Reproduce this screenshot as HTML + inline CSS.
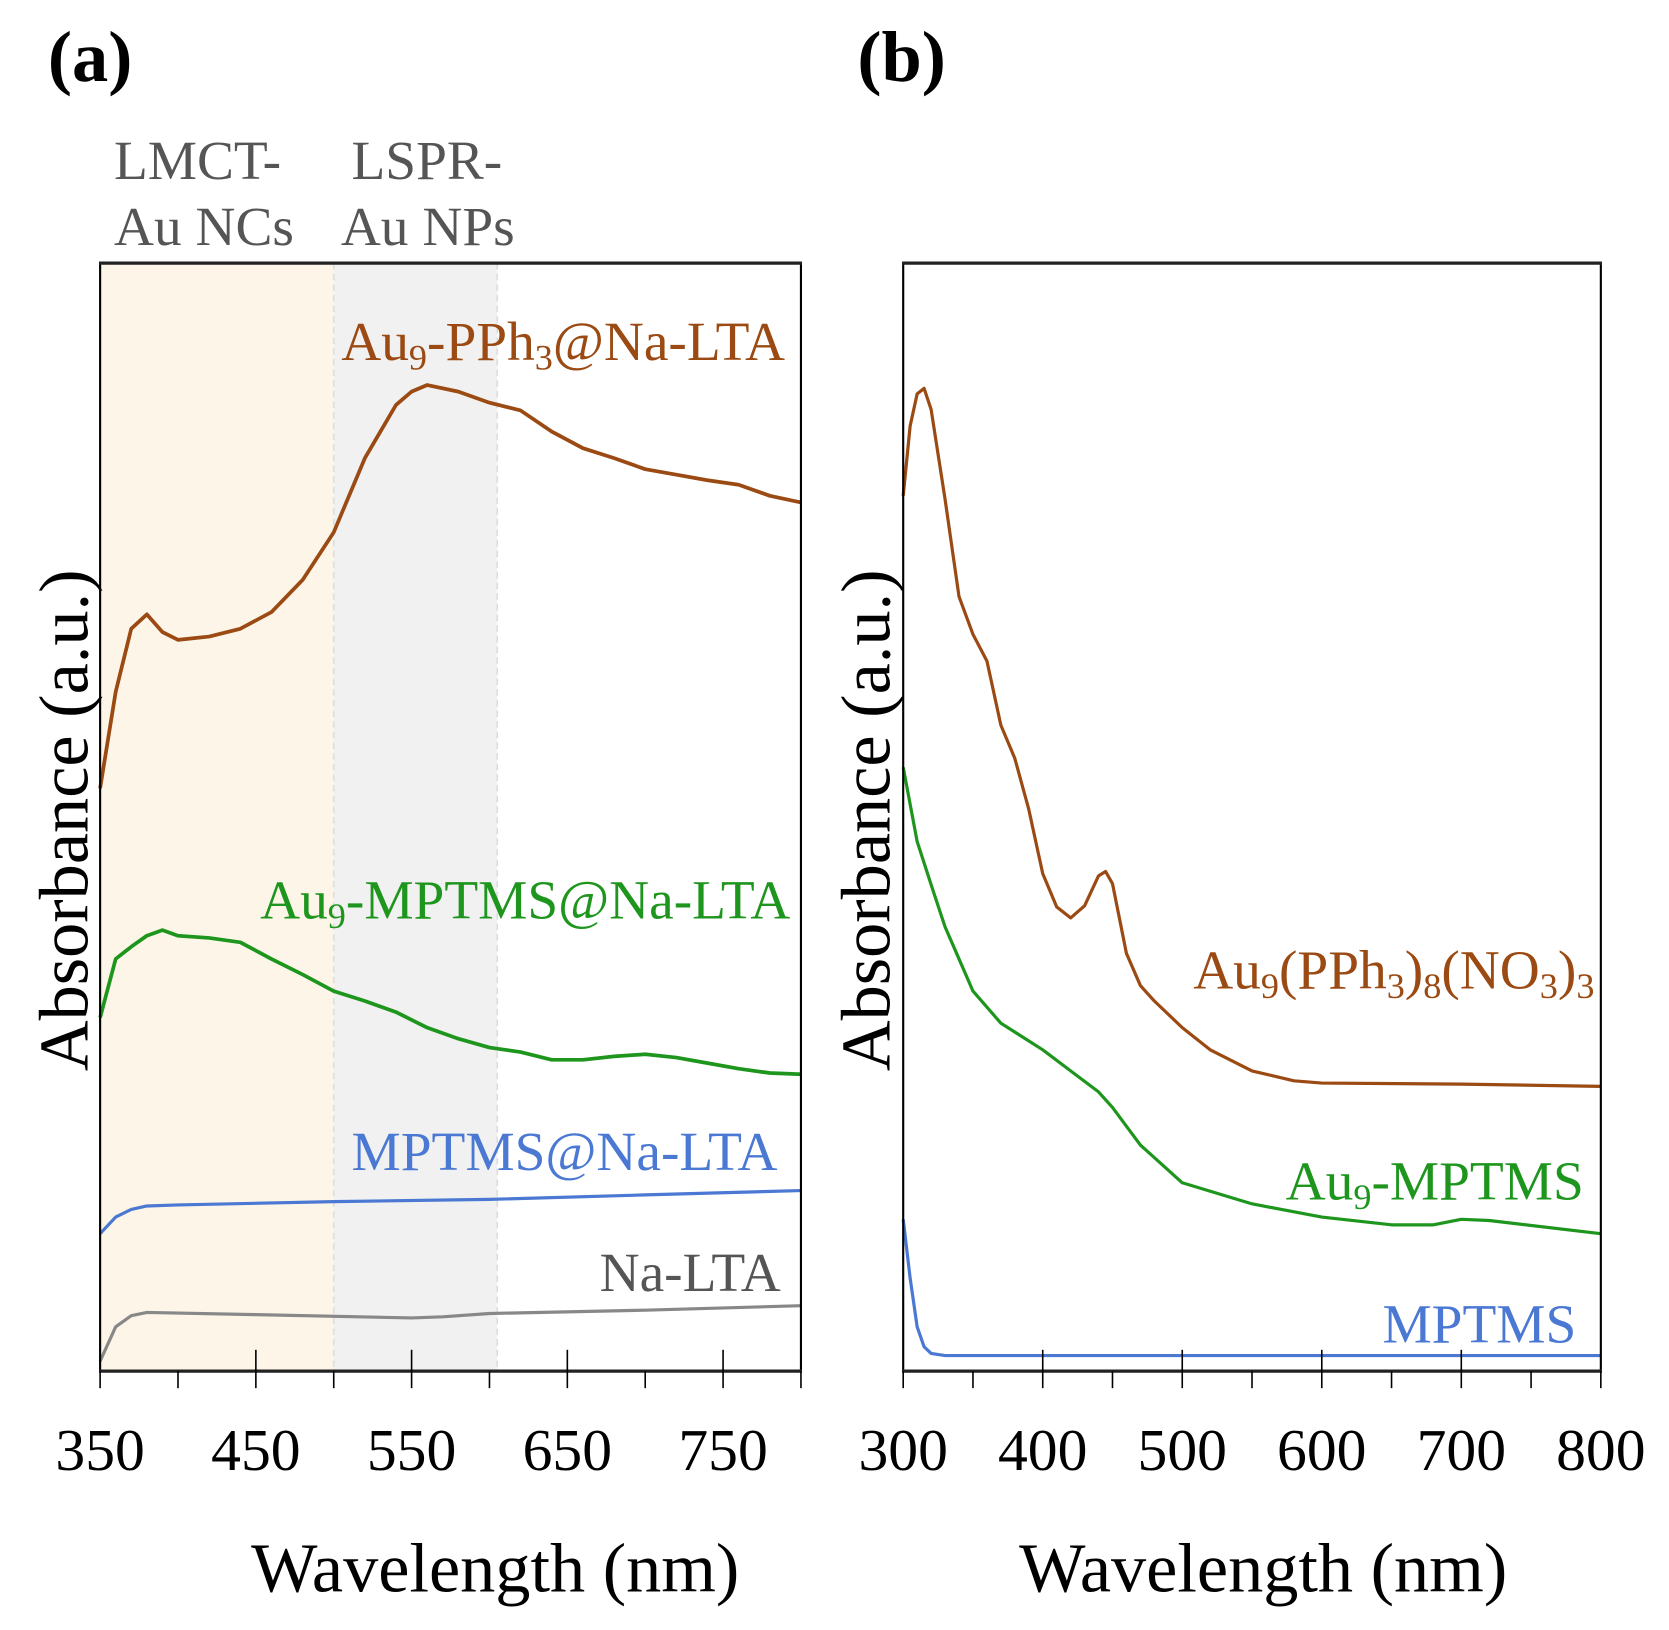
<!DOCTYPE html>
<html><head><meta charset="utf-8"><style>
html,body{margin:0;padding:0;background:#fff}
svg{display:block}
text{font-family:"Liberation Serif",serif}
</style></head><body>
<svg id="fig" width="1669" height="1630" viewBox="0 0 1567 1530" preserveAspectRatio="none" xmlns="http://www.w3.org/2000/svg">
<g id="pa"></g>
<g id="pb"></g>
</svg>
<script>
// Panel (a) data
const aX_ppn = [350,360,370,380,390,400,420,440,460,480,500,520,540,550,560,580,600,620,640,660,680,700,720,740,760,780,800];
const aY_ppn = [.526,.613,.670,.683,.667,.660,.663,.670,.685,.714,.757,.824,.872,.884,.890,.884,.874,.867,.848,.833,.824,.814,.809,.804,.800,.790,.784];
const aX_mp = [350,360,370,380,390,400,420,440,460,480,500,520,540,560,580,600,620,640,660,680,700,720,740,760,780,800];
const aY_mp = [.319,.372,.383,.393,.398,.393,.391,.387,.372,.358,.343,.334,.324,.310,.300,.292,.288,.281,.281,.284,.286,.283,.278,.273,.269,.268];
const aX_blue = [350,360,370,380,400,500,600,700,800];
const aY_blue = [.124,.139,.146,.149,.150,.153,.155,.159,.163];
const aX_gray = [350,360,370,380,450,550,570,600,700,800];
const aY_gray = [.009,.040,.050,.053,.051,.048,.049,.052,.055,.059];
const aTicks = [350,450,550,650,750];
// Panel (b) data
const bX_ppn = [300,305,310,315,320,330,340,350,360,370,380,390,400,410,420,430,440,445,450,460,470,480,500,520,550,580,600,700,800];
const bY_ppn = [.790,.853,.882,.887,.868,.787,.699,.665,.641,.583,.553,.507,.449,.419,.409,.420,.447,.451,.440,.377,.348,.334,.310,.290,.271,.262,.260,.259,.257];
const bX_mp = [300,310,320,330,340,350,370,400,420,440,450,470,500,550,600,650,680,700,720,800];
const bY_mp = [.545,.478,.439,.401,.372,.343,.314,.290,.271,.252,.238,.204,.170,.151,.139,.132,.132,.137,.136,.124];
const bX_blue = [300,305,310,315,320,330,800];
const bY_blue = [.137,.084,.040,.022,.016,.014,.014];
const bTicks = [300,400,500,600,700,800];

const NS="http://www.w3.org/2000/svg";
function mk(parent,tag,attrs,txt){const e=document.createElementNS(NS,tag);for(const k in attrs)e.setAttribute(k,attrs[k]);if(txt!==undefined)e.textContent=txt;parent.appendChild(e);return e;}
const TOP=247,BOT=1287;
function yS(v){return BOT-v*(BOT-TOP);}
const TICKF=56, TITLEF=66, LABF=52, SUBF=34;

// ---------- panel a ----------
const ga=document.getElementById('pa');
const La=94,Ra=752; const xa=v=>La+(v-350)/450*(Ra-La);
let r=mk(ga,'rect',{x:La,y:TOP,width:xa(500)-La,height:BOT-TOP,fill:'#fdf6e8'});


r=mk(ga,'rect',{x:xa(500),y:TOP,width:xa(605)-xa(500),height:BOT-TOP,fill:'#f1f1f1'});


mk(ga,'line',{x1:xa(500),y1:TOP,x2:xa(500),y2:BOT,stroke:'#ddd','stroke-dasharray':'6 4','stroke-width':1.5});
mk(ga,'line',{x1:xa(605),y1:TOP,x2:xa(605),y2:BOT,stroke:'#ddd','stroke-dasharray':'6 4','stroke-width':1.5});
function series(g,X,Y,xf,col,name,w){
  const p=mk(g,'polyline',{points:X.map((x,i)=>xf(x).toFixed(1)+','+yS(Y[i]).toFixed(1)).join(' '),fill:'none',stroke:col,'stroke-width':w||2.5,'stroke-linejoin':'round'});
  
  
}
series(ga,aX_ppn,aY_ppn,xa,'#9a4a12','series-au9-pph3-na-lta',3.5);
series(ga,aX_mp,aY_mp,xa,'#1e961e','series-au9-mptms-na-lta',3.5);
series(ga,aX_blue,aY_blue,xa,'#4a78d2','series-mptms-na-lta',3);
series(ga,aX_gray,aY_gray,xa,'#888','series-na-lta',3);
function frame(g,L,R,name){
  const f=mk(g,'rect',{x:L,y:TOP,width:R-L,height:BOT-TOP,fill:'none',stroke:'#000','stroke-width':2});
  
  
  mk(g,'line',{x1:L-1,y1:TOP,x2:R+1,y2:TOP,stroke:'#222','stroke-width':3});
  mk(g,'line',{x1:L-1,y1:BOT,x2:R+1,y2:BOT,stroke:'#222','stroke-width':3});
}
frame(ga,La,Ra,'plot-frame-a');
for(let v=350;v<=800;v+=50){
  mk(ga,'line',{x1:xa(v),y1:BOT,x2:xa(v),y2:BOT+16,stroke:'#000','stroke-width':1.5});
  if((v-350)%100===0&&v>350&&v<800) mk(ga,'line',{x1:xa(v),y1:BOT-20,x2:xa(v),y2:BOT,stroke:'#000','stroke-width':1.5});}
aTicks.forEach(v=>{const t=mk(ga,'text',{x:xa(v),y:1380,'font-size':TICKF,'text-anchor':'middle'},String(v));
  
  });
function label(g,x,y,s,col,size,name,anchor){const t=mk(g,'text',{x:x,y:y,'font-size':size,fill:col,'text-anchor':anchor||'end'});t.innerHTML=s;
  
  return t;}
const sub=n=>'<tspan font-size="'+SUBF+'" dy="9">'+n+'</tspan>';
const re=s=>'<tspan dy="-9">'+s+'</tspan>';
label(ga,737,338,'Au'+sub(9)+re('-PPh')+sub(3)+re('@Na-LTA'),'#9a4a12',LABF,'label-au9-pph3-na-lta');
label(ga,742,862,'Au'+sub(9)+re('-MPTMS@Na-LTA'),'#1e961e',LABF,'label-au9-mptms-na-lta');
label(ga,730,1098,'MPTMS@Na-LTA','#4a78d2',LABF,'label-mptms-na-lta');
label(ga,733,1212,'Na-LTA','#555',LABF,'label-na-lta');
label(ga,107,168,'LMCT-','#555',LABF,'lmct-label','start');
label(ga,107,230,'Au NCs','#555',LABF,'lmct-label-2','start');
label(ga,330,168,'LSPR-','#555',LABF,'lspr-label','start');
label(ga,320,230,'Au NPs','#555',LABF,'lspr-label-2','start');
let t=mk(ga,'text',{x:45,y:76,'font-size':68,'font-weight':'bold'},'(a)');


t=mk(ga,'text',{x:465,y:1494,'font-size':TITLEF,'text-anchor':'middle'},'Wavelength (nm)');


t=mk(ga,'text',{x:0,y:0,'font-size':TITLEF,'text-anchor':'middle',transform:'translate(82,770) rotate(-90)'},'Absorbance (a.u.)');



// ---------- panel b ----------
const gb=document.getElementById('pb');
const Lb=848,Rb=1503; const xb=v=>Lb+(v-300)/500*(Rb-Lb);
series(gb,bX_ppn,bY_ppn,xb,'#9a4a12','series-au9-pph3-8-no3-3',3);
series(gb,bX_mp,bY_mp,xb,'#1e961e','series-au9-mptms',3);
series(gb,bX_blue,bY_blue,xb,'#4a78d2','series-mptms',3);
frame(gb,Lb,Rb,'plot-frame-b');
for(let v=300;v<=800;v+=50){const maj=v%100===0;
  mk(gb,'line',{x1:xb(v),y1:BOT,x2:xb(v),y2:BOT+16,stroke:'#000','stroke-width':1.5});
  if(maj&&v>300&&v<800) mk(gb,'line',{x1:xb(v),y1:BOT-20,x2:xb(v),y2:BOT,stroke:'#000','stroke-width':1.5});}
bTicks.forEach(v=>{const t=mk(gb,'text',{x:xb(v),y:1380,'font-size':TICKF,'text-anchor':'middle'},String(v));
  
  });
label(gb,1497,928,'Au'+sub(9)+re('(PPh')+sub(3)+re(')')+sub(8)+re('(NO')+sub(3)+re(')')+sub(3),'#9a4a12',LABF,'label-au9-pph3-8-no3-3');
label(gb,1487,1126,'Au'+sub(9)+re('-MPTMS'),'#1e961e',LABF,'label-au9-mptms');
label(gb,1480,1260,'MPTMS','#4a78d2',LABF,'label-mptms');
t=mk(gb,'text',{x:805,y:76,'font-size':68,'font-weight':'bold'},'(b)');


t=mk(gb,'text',{x:1186,y:1494,'font-size':TITLEF,'text-anchor':'middle'},'Wavelength (nm)');


t=mk(gb,'text',{x:0,y:0,'font-size':TITLEF,'text-anchor':'middle',transform:'translate(835,770) rotate(-90)'},'Absorbance (a.u.)');


</script>
</body></html>
